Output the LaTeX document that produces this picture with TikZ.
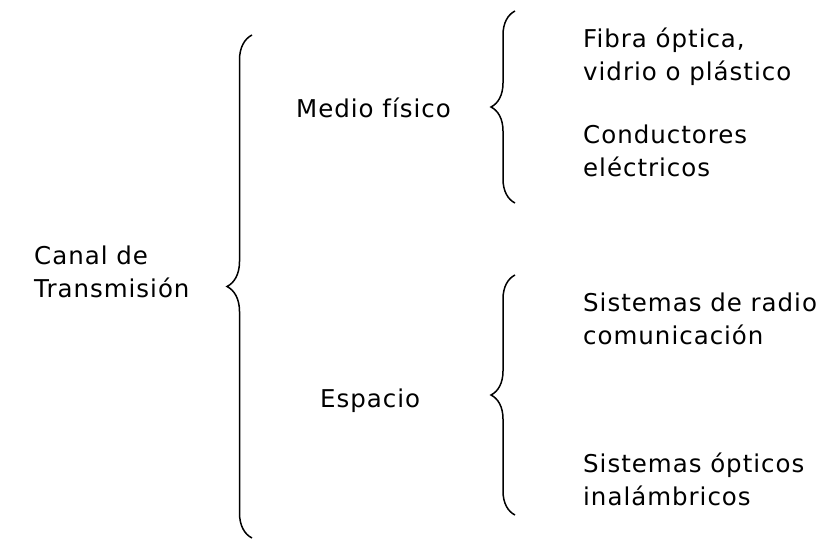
\documentclass[tikz,border=0pt]{standalone}
\usepackage{fontspec}
\usepackage{tikz}
\usetikzlibrary{positioning,decorations.pathreplacing}
\newfontfamily\labelfont[LetterSpace=4]{DejaVu Sans}
\tikzset{
    item/.style = {
        anchor=base west,
        align=left,
        inner sep=0pt,
        font=\labelfont\fontsize{24.5}{32.5}\selectfont
    },
    curly/.style = {
        draw,
        line width=1.5pt,
        decorate,
        decoration={brace, amplitude=#1}
    },
}
\begin{document}
\begin{tikzpicture}[x=1pt, y=-1pt]
                \useasboundingbox (0,0) rectangle (827,539);

                % base = last line
                \node[item] (canal) at (34,297) {Canal de\\Transmisión};
                \node[item] (medio) at (296,117) {Medio físico};
                \node[item] (espacio) at (320,407) {Espacio};
                \node[item] (fibra) at (583,80) {Fibra óptica,\\vidrio o plástico};
                \node[item] (cond) at (583,176) {Conductores\\eléctricos};
                \node[item] (radio) at (583,344) {Sistemas de radio\\comunicación};
                \node[item] (optic) at (583,505) {Sistemas ópticos\\inalámbricos};

                \path[curly=25pt] (252,538) -- (252,35);
                \path[curly=24pt] (515,203) -- (515,11);
                \path[curly=24pt] (515,515) -- (515,275);
\end{tikzpicture}
\end{document}
